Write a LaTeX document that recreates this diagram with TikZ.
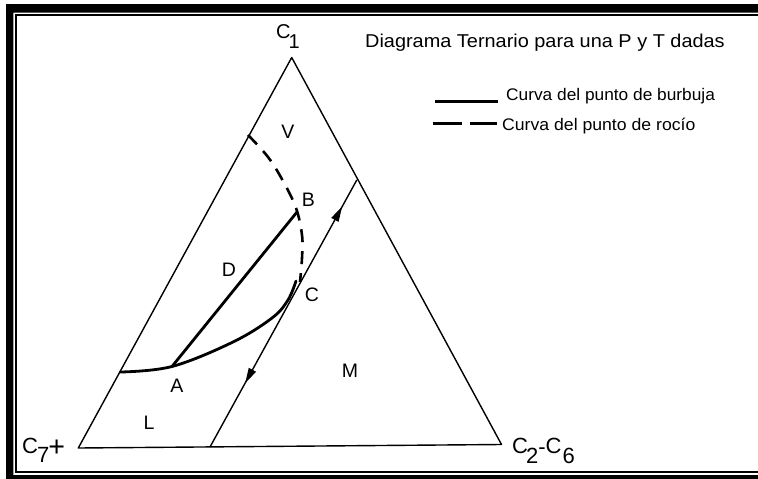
\documentclass[tikz,border=0pt]{standalone}
\usepackage{fontspec}
\setmainfont{Liberation Sans}
\usetikzlibrary{decorations.markings,arrows.meta}
\begin{document}
\begin{tikzpicture}[x=1pt,y=-1pt,
  side/.style={line width=1.4pt, line join=round},
  curve/.style={line width=2.8pt, line cap=round},
  dew/.style={line width=2.6pt, dash pattern=on 13pt off 9pt},
  region/.style={inner sep=0pt, font=\fontsize{19.5}{20}\selectfont},
  vlabel/.style={inner sep=0pt, anchor=base west, font=\fontsize{22}{24}\selectfont},
  legtext/.style={inner sep=0pt, anchor=base west, font=\fontsize{16.8}{18}\selectfont},
  flowtip/.tip={Triangle[length=15pt,width=8pt]},
]
\useasboundingbox (0,0) rectangle (758,479);
\fill[white] (0,0) rectangle (758,479);
% frame
\fill[black, even odd rule] (6,4) rectangle (758,479) (13.3,12.7) rectangle (758,475);
\draw[line width=2pt] (758,15) -- (16.3,15) -- (16.3,472) -- (758,472);

% triangle
\coordinate (c1) at (291.7,57.5);
\coordinate (c7) at (78.3,448);
\coordinate (c26) at (501.5,444.5);
\coordinate (m0) at (210,447);
\coordinate (m1) at (356.8,180);
\draw[side] (c7) -- (c1) -- (c26) -- cycle;
\draw[side, postaction=decorate, decoration={markings,
   mark=at position 0.9 with {\arrow{flowtip}},
   mark=at position 0.24 with {\arrowreversed{flowtip}}}] (m0) -- (m1);

% curves
\coordinate (a) at (172,366.5);
\coordinate (b) at (297,212);
\draw[curve] plot[smooth, tension=0.6] coordinates {(120.5,372) (172,366.5) (233,342) (272,318) (288,300) (296,281)};
\draw[curve] (a) -- (b);
\draw[dew] plot[smooth, tension=0.6] coordinates {(248,135) (268,157) (283,181) (296,208) (302,235) (302,258) (300,282)};

% region labels
\node[region] (V) at (288,131.5) {V};
\node[region] (D) at (229,270) {D};
\node[region] (B) at (308.5,200) {B};
\node[region] (C) at (312,295) {C};
\node[region] (A) at (177,386) {A};
\node[region] (L) at (149,423) {L};
\node[region] (M) at (350,371) {M};

% vertex labels
\node[vlabel, font=\fontsize{20}{22}\selectfont] (lc1) at (276,38) {C\kern-2pt\raisebox{-10pt}{1}};
\node[vlabel] (lc7) at (22,453) {C\kern-1pt\raisebox{-9pt}{7}\kern-1pt\raisebox{-3pt}{\scalebox{1.3}{+}}};
\node[vlabel] (lc26) at (512,453) {C\kern-2pt\raisebox{-10pt}{2}\raisebox{-1pt}{-}C\kern1pt\raisebox{-10pt}{6}};

% title
\node[legtext, font=\fontsize{18.6}{20}\selectfont] (title) at (365,47) {\scalebox{1.07}[1]{Diagrama Ternario para una P y T dadas}};

% legend
\coordinate (l1a) at (435,101.5);
\coordinate (l1b) at (498,101.5);
\coordinate (l2a) at (433,123);
\coordinate (l2b) at (497,123);
\draw[line width=3pt] (l1a) -- (l1b);
\draw[line width=3pt, dash pattern=on 29pt off 8pt] (l2a) -- (l2b);
\node[legtext] (leg1) at (506,100) {\scalebox{1.03}[1]{Curva del punto de burbuja}};
\node[legtext] (leg2) at (502,130) {\scalebox{1.05}[1]{Curva del punto de rocío}};
\end{tikzpicture}
\end{document}
